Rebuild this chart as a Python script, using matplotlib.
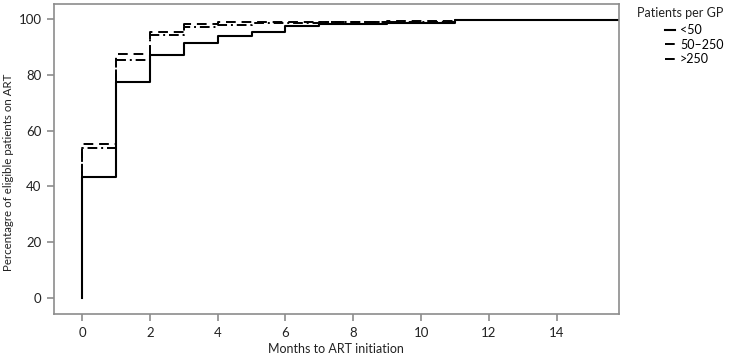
import matplotlib
matplotlib.use('Agg')
import matplotlib.pyplot as plt
from matplotlib.lines import Line2D

plt.rcParams['font.family'] = ['Lato', 'DejaVu Sans']

# Kaplan-Meier style cumulative percentages (step, post)
lt50_t = [0, 0, 1, 2, 3, 4, 5, 6, 7, 9, 11]
lt50_v = [0, 43.3, 77.5, 87.0, 91.6, 94.1, 95.4, 97.5, 98.2, 98.7, 99.6]

mid_t = [0, 0, 1, 2, 3, 4, 5, 7, 11]
mid_v = [0, 53.8, 85.5, 94.2, 97.3, 98.0, 98.6, 99.0, 99.6]

high_t = [0, 0, 1, 2, 3, 4, 6, 9, 11]
high_v = [0, 55.3, 87.5, 95.5, 98.4, 98.8, 99.1, 99.4, 99.6]

labels = ['<50', '50\u2013250', '>250']
xticks = [0, 2, 4, 6, 8, 10, 12, 14]
yticks = [0, 20, 40, 60, 80, 100]
xmax = 15.84

fig = plt.figure(figsize=(7.32, 3.57), dpi=100)
ax = fig.add_axes([0.0738, 0.1204, 0.7718, 0.8684])

def extend(t, v):
    return t + [xmax], v + [v[-1]]

t, v = extend(high_t, high_v)
ax.step(t, v, where='post', color='black', lw=1.4, ls=(0, (5, 3)))
t, v = extend(mid_t, mid_v)
ax.step(t, v, where='post', color='black', lw=1.4, ls=(0, (5, 2, 1, 2)))
t, v = extend(lt50_t, lt50_v)
ax.step(t, v, where='post', color='black', lw=1.5, ls='-')

ax.set_xlim(-0.83, xmax)
ax.set_ylim(-5.7, 105.4)
ax.set_xticks(xticks)
ax.set_yticks(yticks)
for s in ax.spines.values():
    s.set_color('#8c8c8c')
    s.set_linewidth(1.2)
ax.tick_params(colors='#8c8c8c', labelcolor='#222222', labelsize=9.5, length=5, width=1.2, direction='out', pad=4)
ax.set_xlabel('Months to ART initiation', fontsize=9, color='#222222', va='center')
ax.xaxis.set_label_coords(0.499, -0.113)
ax.set_ylabel('Percentagre of eligible patients on ART', fontsize=8.3, color='#222222', va='center')
ax.yaxis.set_label_coords(-0.08, 0.458)

fig.text(0.870, 0.9636, 'Patients per GP', fontsize=9, color='#222222', va='center')
handles = [Line2D([], [], color='black', lw=1.5, ls='-'),
           Line2D([], [], color='black', lw=1.4, ls=(0, (5, 2, 1, 2))),
           Line2D([], [], color='black', lw=1.4, ls=(0, (5, 3)))]
fig.legend(handles, labels, loc='upper left', bbox_to_anchor=(0.9085, 0.932), frameon=False,
           fontsize=9, handlelength=0.8, handletextpad=0.4, labelspacing=0.2, borderpad=0,
           borderaxespad=0)

plt.savefig('out.png', dpi=100)
